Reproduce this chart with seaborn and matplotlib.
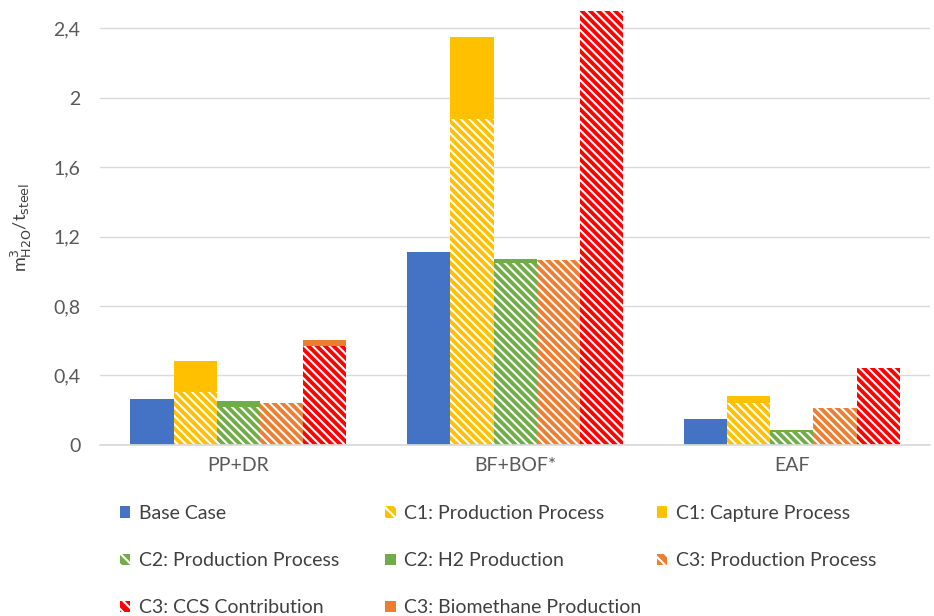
import numpy as np
import pandas as pd
import matplotlib
matplotlib.use("Agg")
import matplotlib.pyplot as plt
import matplotlib.patches as mpatches
from matplotlib.ticker import FixedLocator, FuncFormatter
import seaborn as sns

# data
processes = ["PP+DR", "BF+BOF*", "EAF"]
columns = ["Base", "C1", "C2", "C3 prod", "C3 CCS"]

base_case = [0.265, 1.11, 0.15]
c1_production = [0.305, 1.88, 0.24]
c1_capture = [0.175, 0.47, 0.04]
c2_production = [0.22, 1.05, 0.075]
c2_h2 = [0.035, 0.02, 0.01]
c3_production = [0.24, 1.065, 0.21]
c3_ccs = [0.57, 2.55, 0.44]
c3_biomethane = [0.035, 0.0, 0.0]

yticks = [0, 0.4, 0.8, 1.2, 1.6, 2.0, 2.4]

blue = "#4472C4"
yellow = "#FFC000"
green = "#70AD47"
orange = "#ED7D31"
red = "#FF0000"

sns.set_theme(style="white")
plt.rcParams["font.family"] = ["Lato", "DejaVu Sans"]
plt.rcParams["hatch.linewidth"] = 1.5
HATCH = "\\\\\\\\"

# long tables: totals (top segment colours) and lower segments (hatched)
totals = {
    "Base": base_case,
    "C1": np.add(c1_production, c1_capture),
    "C2": np.add(c2_production, c2_h2),
    "C3 prod": c3_production,
    "C3 CCS": np.add(c3_ccs, c3_biomethane),
}
lower = {
    "Base": base_case,
    "C1": c1_production,
    "C2": c2_production,
    "C3 prod": c3_production,
    "C3 CCS": c3_ccs,
}
rows_top, rows_low = [], []
for col in columns:
    for i, p in enumerate(processes):
        rows_top.append({"process": p, "col": col, "val": totals[col][i]})
        rows_low.append({"process": p, "col": col, "val": lower[col][i]})
df_top = pd.DataFrame(rows_top)
df_low = pd.DataFrame(rows_low)

fig = plt.figure(figsize=(9.34, 6.16), dpi=100)
ax = fig.add_axes([0.107, 0.278, 0.889, 0.704])

top_colors = [blue, yellow, green, orange, orange]
low_colors = [blue, yellow, green, orange, red]

sns.barplot(data=df_top, x="process", y="val", hue="col", hue_order=columns,
            palette=top_colors, saturation=1, width=0.78, gap=0,
            legend=False, errorbar=None, linewidth=0, ax=ax)
n_top = len(ax.containers)
sns.barplot(data=df_low, x="process", y="val", hue="col", hue_order=columns,
            palette=low_colors, saturation=1, width=0.78, gap=0,
            legend=False, errorbar=None, linewidth=0, ax=ax)
for k, cont in enumerate(ax.containers[n_top:]):
    if k == 0:
        continue
    for bar in cont:
        bar.set_hatch(HATCH)
        bar.set_edgecolor("white")
        bar.set_linewidth(0)

ax.set_ylim(0, 2.5)
ax.set_xlim(-0.5, 2.5)
ax.yaxis.set_major_locator(FixedLocator(yticks))
ax.yaxis.set_major_formatter(FuncFormatter(lambda v, _: f"{v:g}".replace(".", ",")))
ax.grid(axis="y", color="#D9D9D9", linewidth=1)
ax.set_axisbelow(True)
for s in ["top", "right", "left"]:
    ax.spines[s].set_visible(False)
ax.spines["bottom"].set_color("#D9D9D9")
ax.tick_params(axis="both", colors="#595959", labelsize=14, length=0, pad=14)
ax.tick_params(axis="x", pad=9)
ax.set_xlabel("")
ax.set_ylabel(r"m$^{3}_{\mathrm{H2O}}$/t$_{\mathrm{steel}}$", color="#404040", fontsize=13, labelpad=14)

def patch(color, hatched):
    if hatched:
        return mpatches.Patch(facecolor=color, edgecolor="white", hatch="\\\\\\", linewidth=0)
    return mpatches.Patch(facecolor=color, linewidth=0)

# legend: three columns placed separately, as in the reference
legend_cols = [
    (0.128, [(patch(blue, False), "Base Case"),
             (patch(green, True), "C2: Production Process"),
             (patch(red, True), "C3: CCS Contribution")]),
    (0.412, [(patch(yellow, True), "C1: Production Process"),
             (patch(green, False), "C2: H2 Production"),
             (patch(orange, False), "C3: Biomethane Production")]),
    (0.703, [(patch(yellow, False), "C1: Capture Process"),
             (patch(orange, True), "C3: Production Process")]),
]
for x0, items in legend_cols:
    leg = fig.legend([h for h, _ in items], [l for _, l in items], ncol=1,
                     loc="upper left", bbox_to_anchor=(x0, 0.18), frameon=False,
                     fontsize=14, handlelength=0.55, handleheight=0.55, handletextpad=0.45,
                     labelspacing=1.55, borderaxespad=0, borderpad=0)
    for t in leg.get_texts():
        t.set_color("#404040")

fig.savefig("out.png", dpi=100)
